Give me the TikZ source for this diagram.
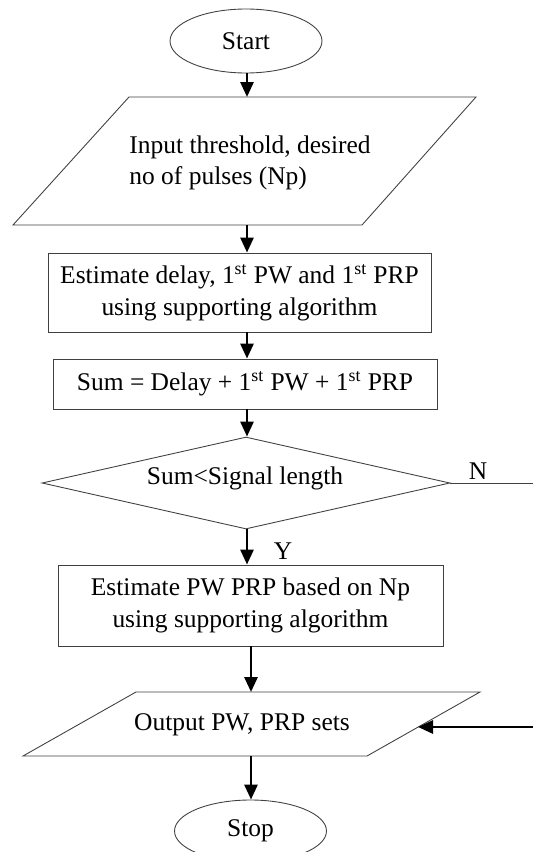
\documentclass[tikz,border=0pt]{standalone}
\usepackage{fontspec}
\setmainfont{Liberation Serif}
\usetikzlibrary{shapes.geometric,arrows.meta,positioning,calc}

\tikzset{
  outline/.style = {draw=black!75, line width=0.5pt},
  terminal/.style = {outline, ellipse, inner sep=0pt, minimum width=3.04cm},
  process/.style = {outline, rectangle, inner sep=0pt, align=center},
  decision/.style = {outline, diamond, aspect=4.43, inner sep=0pt,
                     minimum width=8.16cm, minimum height=1.84cm},
  flow/.style = {line width=1.6pt, -{Triangle[length=0.3cm,width=0.26cm]}},
}

\begin{document}
\begin{tikzpicture}[x=0.02cm, y=-0.02cm,
    every node/.style={font=\fontsize{14.5}{18}\selectfont}]
    \useasboundingbox (0,0) rectangle (532,852);

    \node[terminal, minimum height=1.28cm] (start) at (246,41) {Start};

    \draw[outline] (129,97) -- (476,97) -- (362,225) -- (13,225) -- cycle;
    \coordinate (inp-n) at (247,97);
    \coordinate (inp-s) at (247,225);
    \node[anchor=west, align=left, inner sep=0pt] (inp) at (129,163)
      {Input threshold, desired\\no of pulses (Np)};

    \node[process, minimum width=7.66cm, minimum height=1.58cm] (est1) at (239.5,292.5)
      {Estimate delay, 1\textsuperscript{st} PW and 1\textsuperscript{st} PRP\\using supporting algorithm};
    \node[process, minimum width=7.68cm, minimum height=1.0cm] (sum) at (245,384)
      {Sum = Delay + 1\textsuperscript{st} PW + 1\textsuperscript{st} PRP};
    \node[decision] (dec) at (246,483) {};
    \node (declab) at (245,478) {Sum<Signal length};
    \node (nlab) at (478,471) {N};
    \node (ylab) at (283,551) {Y};
    \node[process, minimum width=7.70cm, minimum height=1.62cm] (est2) at (250.5,605.5)
      {Estimate PW PRP based on Np\\using supporting algorithm};

    \draw[outline] (136,692) -- (480,692) -- (367,756) -- (23,756) -- cycle;
    \coordinate (out-n) at (251,692);
    \coordinate (out-s) at (251,756);
    \coordinate (out-e) at (418,727);
    \node (out) at (242,725) {Output PW, PRP sets};

    \node[terminal, minimum height=1.24cm] (stop) at (250.5,831) {Stop};

    \coordinate (turn1) at (545,483);
    \coordinate (turn2) at (545,727);

    \draw[flow] (start.south -| inp-n) -- (inp-n);
    \draw[flow] (inp-s) -- (inp-s |- est1.north);
    \draw[flow] (est1.south -| inp-s) -- (sum.north -| inp-s);
    \draw[flow] (sum.south -| inp-s) -- (dec.north -| inp-s);
    \draw[flow] (dec.south -| inp-s) -- (est2.north -| inp-s);
    \draw[flow] (est2.south -| out-n) -- (out-n);
    \draw[flow] (out-s) -- (stop.north -| out-s);
    \draw[outline] (dec.east) -- (turn1) -- (turn2);
    \draw[flow] (turn2) -- (out-e);
\end{tikzpicture}
\end{document}
